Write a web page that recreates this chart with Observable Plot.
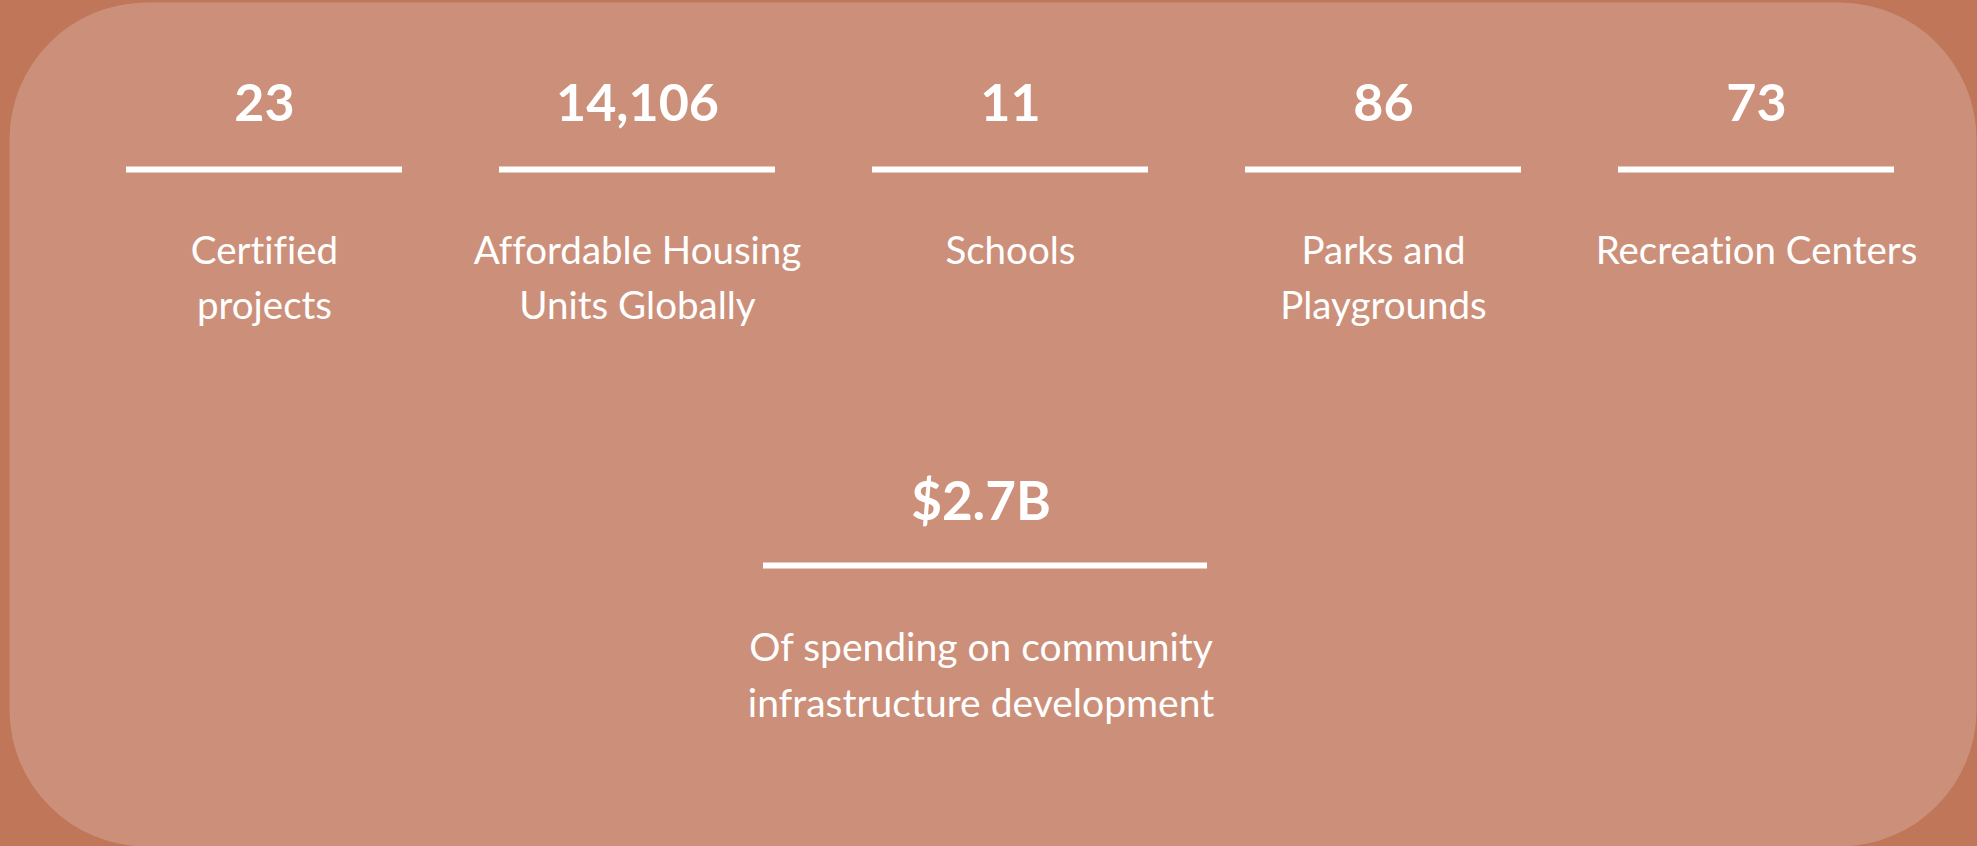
<!DOCTYPE html>
<html>
<head>
<meta charset="utf-8">
<script src="https://cdn.jsdelivr.net/npm/d3@7"></script>
<script src="https://cdn.jsdelivr.net/npm/@observablehq/plot@0.6"></script>
<style>
  html, body { margin: 0; padding: 0; background: #BF7659; }
  #chart svg { display: block; }
  #chart svg text { font-variant-ligatures: none; font-feature-settings: "liga" 0, "clig" 0, "dlig" 0; }
</style>
</head>
<body>
<div id="chart"></div>
<script>
// ---- data ----
const categories = ["Certified projects", "Affordable Housing Units Globally", "Schools", "Parks and Playgrounds", "Recreation Centers"];
const values = [23, 14106, 11, 86, 73];
const labelLines = ["Certified\nprojects", "Affordable Housing\nUnits Globally", "Schools", "Parks and\nPlaygrounds", "Recreation Centers"];
const spendingValue = [2.7e9];
const spendingLabel = ["Of spending on community\ninfrastructure development"];
const rows = ["stats", "spending"];

// ---- tables built from the arrays ----
const stats = categories.map((c, i) => ({category: c, value: values[i], label: labelLines[i], row: rows[0]}));
const spending = spendingValue.map((v, i) => ({value: v, label: spendingLabel[i], row: rows[1]}));

const fmtCount = d3.format(",");
const fmtMoney = v => "$" + d3.format(".1f")(v / 1e9) + "B";

const INNER = "#CC907A";
const OUTER = "#BF7659";
const FONT = "Lato, 'Open Sans', sans-serif";

const chart = Plot.plot({
  width: 1977,
  height: 846,
  marginLeft: 9,
  marginRight: 1,
  marginTop: 2,
  marginBottom: 0,
  style: {background: OUTER, fontFamily: FONT},
  x: {type: "band", domain: categories, range: [126, 1895], paddingInner: 0.26, paddingOuter: 0, axis: null},
  y: {type: "point", domain: rows, range: [120, 519], padding: 0, axis: null},
  marks: [
    Plot.frame({fill: INNER, rx: 137, ry: 137}),
    // top row: numbers
    Plot.text(stats, {x: "category", y: "row", text: d => fmtCount(d.value), fontSize: 52, fontWeight: 700, fill: "white", lineAnchor: "bottom", fontFamily: FONT}),
    // top row: separator lines
    Plot.tickY(stats, {x: "category", y: "row", stroke: "white", strokeWidth: 6, dy: 49}),
    // top row: labels
    Plot.text(stats, {x: "category", y: "row", text: "label", fontSize: 38.5, lineHeight: 1.43, lineAnchor: "top", dy: 104, fill: "white", fontFamily: FONT}),
    // bottom row: spending
    Plot.text(spending, {y: "row", text: d => fmtMoney(d.value), fontSize: 53, fontWeight: 700, fill: "white", lineAnchor: "bottom", dx: -12, fontFamily: FONT}),
    Plot.ruleY(spending, {y: "row", stroke: "white", strokeWidth: 6, dy: 46, insetLeft: 754, insetRight: 769}),
    Plot.text(spending, {y: "row", text: "label", fontSize: 39, lineHeight: 1.43, lineAnchor: "top", dy: 102, dx: -12, fill: "white", fontFamily: FONT})
  ]
});

document.getElementById("chart").appendChild(chart);
</script>
</body>
</html>
